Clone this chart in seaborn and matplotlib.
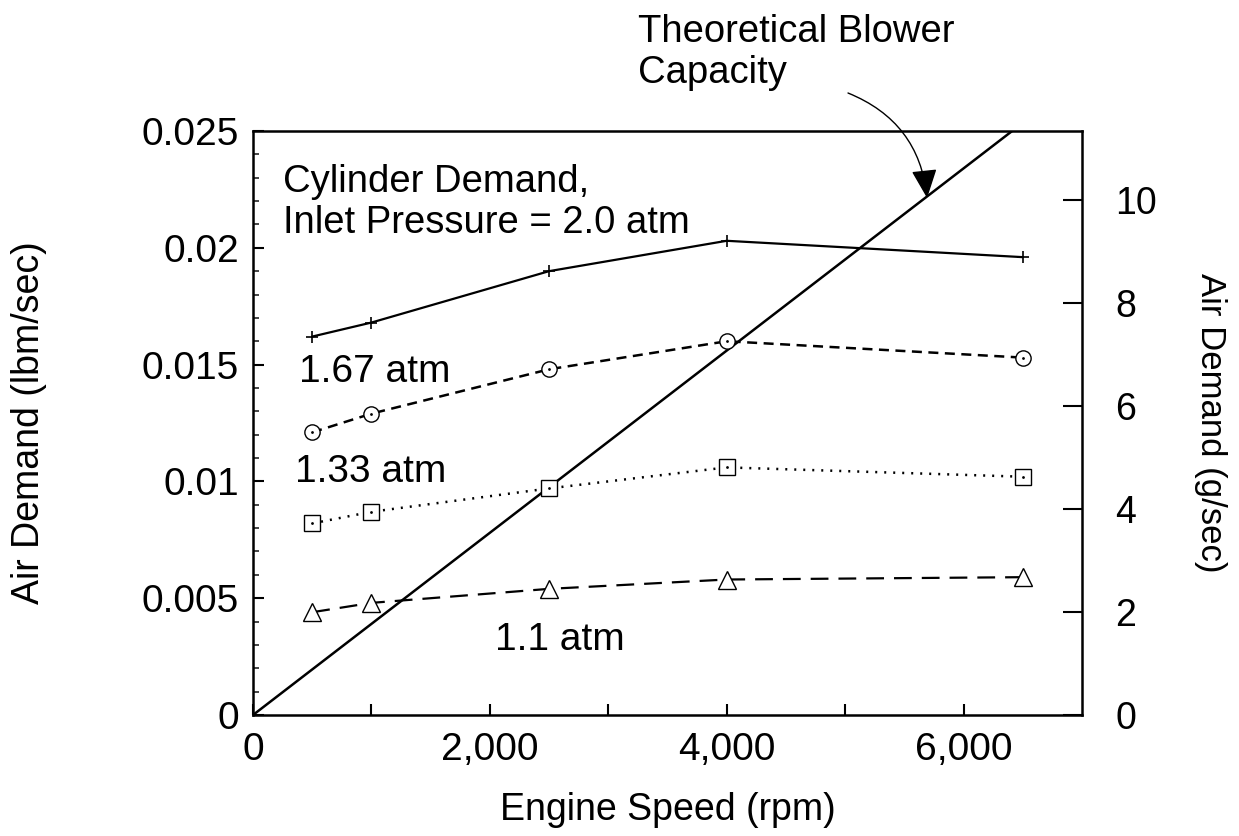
import numpy as np
import pandas as pd
import matplotlib
matplotlib.use("Agg")
import matplotlib.pyplot as plt
from matplotlib.ticker import FixedLocator, MultipleLocator, FuncFormatter
import seaborn as sns

# Engine speeds at which cylinder air demand was evaluated (rpm)
speed_rpm = [500, 1000, 2500, 4000, 6500]

# Cylinder air demand (lbm/sec) for each inlet pressure
demand_2p0 = [0.0162, 0.0168, 0.0190, 0.0203, 0.0196]
demand_1p67 = [0.0121, 0.0129, 0.0148, 0.0160, 0.0153]
demand_1p33 = [0.0082, 0.0087, 0.0097, 0.0106, 0.0102]
demand_1p1 = [0.0044, 0.0048, 0.0054, 0.0058, 0.0059]

# Theoretical blower capacity (straight line through the origin)
blower_speed = [0, 7000]
blower_flow = [0, 0.0273]

x_ticks = [0, 2000, 4000, 6000]
y_ticks = [0, 0.005, 0.01, 0.015, 0.02, 0.025]
y_tick_labels = ["0", "0.005", "0.01", "0.015", "0.02", "0.025"]
g_ticks = [0, 2, 4, 6, 8, 10]
LBM_TO_G = 453.592

sns.set_theme(style="white")
plt.rcParams["font.family"] = ["Liberation Sans", "DejaVu Sans"]
plt.rcParams["text.color"] = "black"
plt.rcParams["axes.labelcolor"] = "black"

W, H = 1239, 836
fig = plt.figure(figsize=(W / 100, H / 100), dpi=100)
ax = fig.add_axes([253 / W, 1 - 715 / H, (1082 - 253) / W, (715 - 131) / H])

frames = []
for name, vals in [("2.0", demand_2p0), ("1.67", demand_1p67),
                   ("1.33", demand_1p33), ("1.1", demand_1p1)]:
    frames.append(pd.DataFrame({"speed": speed_rpm, "demand": vals, "pressure": name}))
df = pd.concat(frames, ignore_index=True)

styles = {
    "2.0": dict(linestyle="-", lw=1.6, marker="+", ms=9, mew=1.2),
    "1.67": dict(linestyle=(0, (4, 2.6)), lw=1.8, marker="o", ms=11, mew=1.0,
                 mfc="white"),
    "1.33": dict(linestyle=(0, (0.8, 2.8)), lw=1.8, marker="s", ms=11, mew=1.0,
                 mfc="white"),
    "1.1": dict(linestyle=(0, (8, 4.5)), lw=1.6, marker="^", ms=13, mew=1.0,
                mfc="white"),
}

# Blower line
blower = pd.DataFrame({"speed": blower_speed, "flow": blower_flow})
sns.lineplot(data=blower, x="speed", y="flow", ax=ax, color="black", lw=1.8,
             estimator=None, sort=False, legend=False)

for name, st in styles.items():
    sub = df[df["pressure"] == name]
    sns.lineplot(data=sub, x="speed", y="demand", ax=ax, color="black",
                 mec="black", estimator=None, legend=False, **st)
    if name in ("1.67", "1.33"):
        sns.scatterplot(data=sub, x="speed", y="demand", ax=ax, color="black",
                        marker="o", s=4, linewidth=0, legend=False, zorder=5)

ax.set_xlim(0, 7000)
ax.set_ylim(0, 0.025)

# Axes frame
for sp in ax.spines.values():
    sp.set_visible(True)
    sp.set_color("black")
    sp.set_linewidth(1.8)

ax.xaxis.set_major_locator(FixedLocator(x_ticks))
ax.xaxis.set_minor_locator(FixedLocator([1000, 3000, 5000]))
ax.xaxis.set_major_formatter(FuncFormatter(lambda v, p: f"{int(v):,}"))
ax.yaxis.set_major_locator(FixedLocator(y_ticks))
ax.yaxis.set_major_formatter(FuncFormatter(
    lambda v, p: y_tick_labels[int(round(v / 0.005))]))
ax.yaxis.set_minor_locator(MultipleLocator(0.001))

ax.tick_params(axis="x", which="both", direction="in", length=8, width=1.5,
               pad=12, labelsize=28, colors="black", bottom=True, top=False)
ax.tick_params(axis="y", which="major", direction="in", length=8, width=1.5,
               pad=10, labelsize=28, colors="black", left=True, right=False)
ax.tick_params(axis="y", which="minor", direction="in", length=4, width=1.2,
               left=True, right=False)

ax.set_xlabel("Engine Speed (rpm)", fontsize=27, va="baseline")
ax.xaxis.set_label_coords(0.5, -(820 - 715) / 584)
ax.set_ylabel("Air Demand (lbm/sec)", fontsize=27, va="center")
ax.yaxis.set_label_coords((29 - 253) / 829, 0.5)

# Secondary scale in g/sec
ax2 = ax.twinx()
ax2.set_ylim(0, 0.025 * LBM_TO_G)
ax2.yaxis.set_major_locator(FixedLocator(g_ticks))
ax2.tick_params(axis="y", direction="in", length=14, width=1.5, pad=24,
                labelsize=27, colors="black")
for sp in ax2.spines.values():
    sp.set_visible(False)
ax2.grid(False)
ax2.set_ylabel("Air Demand (g/sec)", fontsize=25, rotation=270, va="center")
ax2.yaxis.set_label_coords((1210 - 253) / 829, 0.5)

# Curve labels
ax.text(389, 0.01426, "1.67 atm", fontsize=28, va="baseline", ha="left")
ax.text(355, 0.00997, "1.33 atm", fontsize=28, va="baseline", ha="left")
ax.text(2044, 0.00278, "1.1 atm", fontsize=28, va="baseline", ha="left")
# baseline of the last line sits at the given y
ax.text(253, 0.02063, "Cylinder Demand,\nInlet Pressure = 2.0 atm",
        fontsize=27.5, va="baseline", ha="left", linespacing=1.17)

# Blower capacity callout
fig.text(638 / W, (H - 83) / H, "Theoretical Blower\nCapacity", fontsize=27.5,
         va="baseline", ha="left", linespacing=1.17)
ax.annotate("", xy=(5692, 0.02213), xycoords="data",
            xytext=(848, H - 93), textcoords="figure pixels",
            arrowprops=dict(arrowstyle="-|>,head_length=0.9,head_width=0.4",
                            mutation_scale=20, color="black", lw=1.0,
                            connectionstyle="arc3,rad=-0.3", shrinkA=0,
                            shrinkB=0),
            annotation_clip=False)

ax.grid(False)
fig.savefig("out.png", dpi=100, facecolor="white")
